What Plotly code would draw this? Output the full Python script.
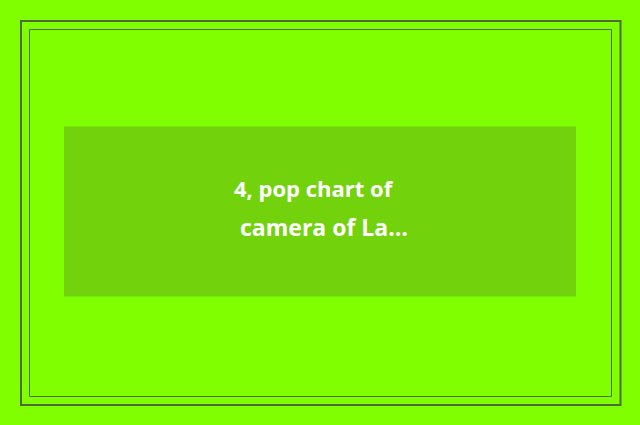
import plotly.graph_objects as go

# Content of the placeholder card
title_lines = ["4, pop chart of ", "camera of La…"]
line_x = [232, 238]          # left edge of each text line (px)
line_baseline = [198, 238]   # baseline of each text line (px)

W, H = 640, 425
BG = "#80ff00"
BOX = "#72d30c"
BORDER = "#4f6b3c"

fig = go.Figure()

shapes = [
    dict(type="rect", x0=21, y0=21, x1=620.5, y1=405, line=dict(color=BORDER, width=2), fillcolor="rgba(0,0,0,0)"),
    dict(type="rect", x0=29.5, y0=29.5, x1=611.5, y1=396.5, line=dict(color=BORDER, width=1), fillcolor="rgba(0,0,0,0)"),
    dict(type="rect", x0=64, y0=126.5, x1=576, y1=296.5, line=dict(width=0), fillcolor=BOX, layer="below"),
]

annotations = []
for txt, x, yb, fs in zip(title_lines, line_x, line_baseline, [22, 23]):
    annotations.append(dict(
        x=x, y=yb + 7, xref="x", yref="y", text="<b>" + txt + "</b>",
        showarrow=False, xanchor="left", yanchor="bottom",
        font=dict(family="Open Sans", size=fs, color="white"),
    ))

fig.update_layout(
    width=W, height=H,
    margin=dict(l=0, r=0, t=0, b=0),
    paper_bgcolor=BG, plot_bgcolor=BG,
    xaxis=dict(range=[0, W], visible=False, fixedrange=True),
    yaxis=dict(range=[H, 0], visible=False, fixedrange=True),
    shapes=shapes, annotations=annotations, showlegend=False,
)

fig.write_html(
    "out.html",
    config={"displayModeBar": False},
    post_script="document.body.style.margin='0';document.body.style.background='" + BG + "';",
)
